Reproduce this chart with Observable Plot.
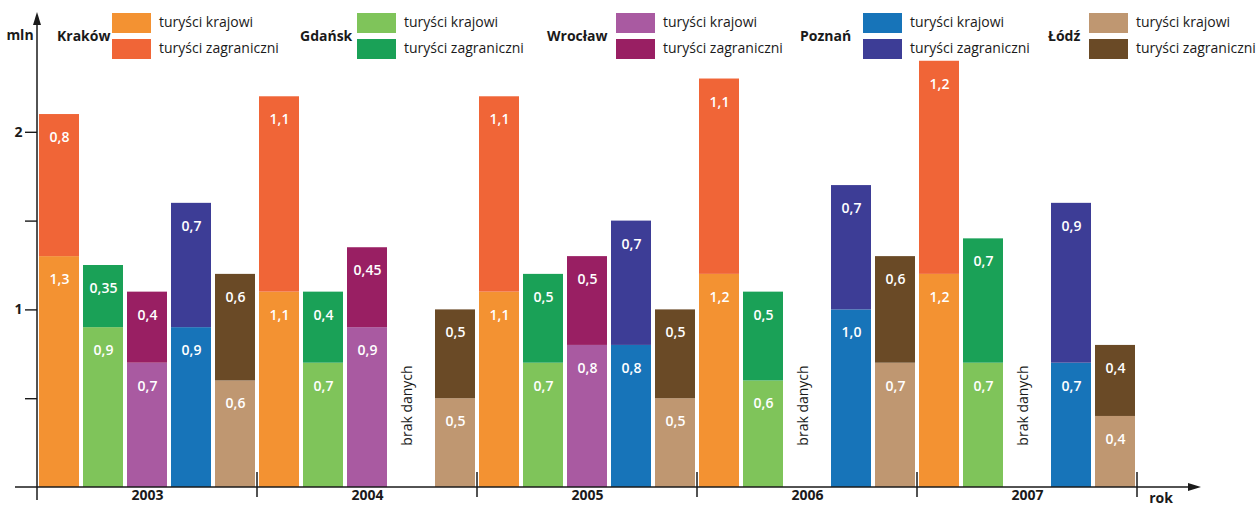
<!DOCTYPE html>
<html>
<head>
<meta charset="utf-8">
<script src="https://cdn.jsdelivr.net/npm/d3@7"></script>
<script src="https://cdn.jsdelivr.net/npm/@observablehq/plot@0.6"></script>
<style>
  body { margin: 0; background: #fff; font-family: "Open Sans", sans-serif; color: #1a1a1a; }
  #wrap { position: relative; width: 1258px; height: 506px; }
  #wrap svg { position: absolute; left: 0; top: 0; }
  .lg { position: absolute; font-size: 14px; line-height: 1; white-space: nowrap; }
  .city { font-weight: bold; }
  .sw { position: absolute; width: 39px; height: 20px; }
</style>
</head>
<body>
<div id="wrap"></div>
<script>
// ---- data ----
const years = ["2003", "2004", "2005", "2006", "2007"];
const cities = ["Kraków", "Gdańsk", "Wrocław", "Poznań", "Łódź"];
const typeLabels = ["turyści krajowi", "turyści zagraniczni"];
// mln tourists per year (null = brak danych)
const krakowKrajowi = [1.3, 1.1, 1.1, 1.2, 1.2];
const krakowZagraniczni = [0.8, 1.1, 1.1, 1.1, 1.2];
const gdanskKrajowi = [0.9, 0.7, 0.7, 0.6, 0.7];
const gdanskZagraniczni = [0.35, 0.4, 0.5, 0.5, 0.7];
const wroclawKrajowi = [0.7, 0.9, 0.8, null, null];
const wroclawZagraniczni = [0.4, 0.45, 0.5, null, null];
const poznanKrajowi = [0.9, null, 0.8, 1.0, 0.7];
const poznanZagraniczni = [0.7, null, 0.7, 0.7, 0.9];
const lodzKrajowi = [0.6, 0.5, 0.5, 0.7, 0.4];
const lodzZagraniczni = [0.6, 0.5, 0.5, 0.6, 0.4];
const yTicks = [0.5, 1, 1.5, 2];
const missingText = "brak danych";

// ---- styles ----
const krajColors = ["#f39232", "#7fc45a", "#a95aa1", "#1774b9", "#bf9771"];
const zagrColors = ["#f06537", "#1aa157", "#991f63", "#3d3d96", "#6a4a26"];
const legendCityX = [57, 300, 547, 800, 1048];
const legendSwatchX = [112, 357, 616, 863, 1089];

const krajowi = [krakowKrajowi, gdanskKrajowi, wroclawKrajowi, poznanKrajowi, lodzKrajowi];
const zagraniczni = [krakowZagraniczni, gdanskZagraniczni, wroclawZagraniczni, poznanZagraniczni, lodzZagraniczni];

const slots = years.flatMap(y => cities.map(c => `${y} ${c}`));
const fmt = v => (Math.round(v * 100) % 10 !== 0 ? v.toFixed(2) : v.toFixed(1)).replace(".", ",");

const bars = [];
const missing = [];
years.forEach((yr, yi) => {
  cities.forEach((c, ci) => {
    const slot = `${yr} ${c}`;
    const k = krajowi[ci][yi], z = zagraniczni[ci][yi];
    if (k == null) { missing.push({slot}); return; }
    bars.push({slot, key: `${c} k`, y1: 0, y2: k, label: fmt(k)});
    bars.push({slot, key: `${c} z`, y1: k, y2: k + z, label: fmt(z)});
  });
});

const colorDomain = cities.flatMap(c => [`${c} k`, `${c} z`]);
const colorRange = cities.flatMap((c, i) => [krajColors[i], zagrColors[i]]);

const plot = Plot.plot({
  width: 1258, height: 506,
  marginLeft: 37, marginRight: 121, marginTop: 43, marginBottom: 19,
  style: {fontFamily: "Open Sans, sans-serif", color: "#1a1a1a", background: "transparent", overflow: "visible"},
  x: {domain: slots, paddingInner: 0.09, paddingOuter: 0.045, axis: null},
  y: {domain: [0, 2.5], axis: null},
  color: {domain: colorDomain, range: colorRange},
  marks: [
    Plot.barY(bars, {x: "slot", y1: "y1", y2: "y2", fill: "key"}),
    Plot.text(bars, {x: "slot", y: "y2", text: "label", dy: 23, fill: "white", fontWeight: 600, fontSize: 14}),
    Plot.text(missing, {x: "slot", text: () => missingText, frameAnchor: "bottom", dy: -82, rotate: -90, fontSize: 14, fill: "#1a1a1a"}),
    Plot.axisY({ticks: yTicks, tickSize: 12, tickPadding: 3, tickFormat: d => Number.isInteger(d) ? String(d) : "", fontSize: 14, fontWeight: "bold", stroke: "#1a1a1a", strokeWidth: 1.4}),
    Plot.text(years, {x: d => `${d} Wrocław`, text: d => d, frameAnchor: "bottom", dy: 12, fontWeight: "bold", fontSize: 14, fill: "#1a1a1a"})
  ]
});

const wrap = document.getElementById("wrap");
wrap.appendChild(plot);

// axes decorations via scales
const sx = plot.scale("x"), sy = plot.scale("y");
const svg = d3.select(plot);
const y0 = sy.apply(0);
const gap = (sx.step - sx.bandwidth) / 2;
const xLeft = sx.apply(slots[0]) - gap;
const xRight = sx.apply(slots[slots.length - 1]) + sx.bandwidth + gap;
const g = svg.append("g").attr("stroke", "#1a1a1a").attr("fill", "#1a1a1a");
// y axis
g.append("line").attr("x1", xLeft).attr("x2", xLeft).attr("y1", 20).attr("y2", y0 + 13).attr("stroke-width", 1.5);
g.append("path").attr("stroke", "none").attr("d", `M${xLeft},12 L${xLeft - 4},25 L${xLeft + 4},25 Z`);
// x axis
g.append("line").attr("x1", 15).attr("x2", 1192).attr("y1", y0).attr("y2", y0).attr("stroke-width", 1.5);
g.append("path").attr("stroke", "none").attr("d", `M1201,${y0} L1188,${y0 - 4} L1188,${y0 + 4} Z`);
// group boundaries
years.slice(1).map(y => sx.apply(`${y} ${cities[0]}`) - gap).concat([xRight]).forEach(x => {
  g.append("line").attr("x1", x).attr("x2", x).attr("y1", y0 - 15).attr("y2", y0 + 10).attr("stroke-width", 1.5);
});
// axis names
svg.append("text").attr("x", 20).attr("y", 36).attr("text-anchor", "middle").attr("dominant-baseline", "middle")
  .attr("font-weight", "bold").attr("font-size", 14).attr("fill", "#1a1a1a").text("mln");
svg.append("text").attr("x", 1161).attr("y", 499).attr("text-anchor", "middle").attr("dominant-baseline", "middle")
  .attr("font-weight", "bold").attr("font-size", 14).attr("fill", "#1a1a1a").text("rok");

// legend
cities.forEach((c, i) => {
  const n = document.createElement("div");
  n.className = "lg city"; n.textContent = c;
  n.style.left = legendCityX[i] + "px"; n.style.top = "29px";
  wrap.appendChild(n);
  [krajColors[i], zagrColors[i]].forEach((col, j) => {
    const s = document.createElement("div");
    s.className = "sw"; s.style.background = col;
    s.style.left = legendSwatchX[i] + "px"; s.style.top = (j ? 39 : 13) + "px";
    wrap.appendChild(s);
    const t = document.createElement("div");
    t.className = "lg"; t.textContent = typeLabels[j];
    t.style.left = (legendSwatchX[i] + 47) + "px"; t.style.top = (j ? 41 : 15) + "px";
    wrap.appendChild(t);
  });
});
</script>
</body>
</html>
